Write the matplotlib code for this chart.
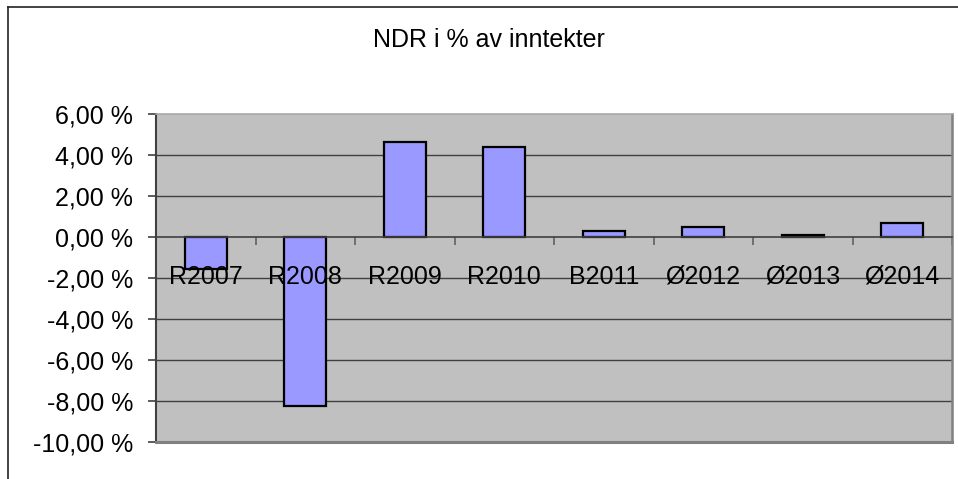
import numpy as np
import matplotlib.pyplot as plt
from matplotlib.lines import Line2D

categories = ["R2007", "R2008", "R2009", "R2010", "B2011", "Ø2012", "Ø2013", "Ø2014"]
values = [-1.58, -8.23, 4.65, 4.37, 0.28, 0.49, 0.11, 0.67]
y_ticks = [-10, -8, -6, -4, -2, 0, 2, 4, 6]
y_labels = ["-10,00 %", "-8,00 %", "-6,00 %", "-4,00 %", "-2,00 %",
            "0,00 %", "2,00 %", "4,00 %", "6,00 %"]
title = "NDR i % av inntekter"

plt.rcParams['font.family'] = ['Liberation Sans', 'DejaVu Sans']

W, H = 958, 479
fig = plt.figure(figsize=(W / 100, H / 100), dpi=100)
ax = fig.add_axes([156 / W, 1 - 442 / H, (952 - 156) / W, (442 - 114) / H])
ax.set_facecolor('#C0C0C0')

x = np.arange(len(categories))
ax.bar(x, values, width=0.42, color='#9999FF', edgecolor='black',
       linewidth=1.6, zorder=1)

# gridlines behind the bars
for t in y_ticks[1:-1]:
    if t != 0:
        ax.axhline(t, color='#404040', lw=1.0, zorder=0.5)

ax.set_xlim(-0.5, len(categories) - 0.5)
ax.set_ylim(y_ticks[0], y_ticks[-1])
ax.set_yticks(y_ticks)
ax.set_yticklabels(y_labels)
ax.tick_params(axis='y', length=6, width=1.2, color='#404040', pad=10.5,
               labelsize=18)

ax.set_xticks(x)
ax.set_xticks(np.arange(len(categories)) + 0.5, minor=True)
ax.set_xticklabels(categories)
ax.tick_params(axis='x', which='major', length=0, pad=20, labelsize=18)
ax.tick_params(axis='x', which='minor', length=6, width=1.2,
               color='#606060', direction='out')

ax.spines['bottom'].set_position(('data', 0))
ax.spines['bottom'].set_color('#404040')
ax.spines['bottom'].set_linewidth(1.2)
ax.spines['left'].set_color('#404040')
ax.spines['left'].set_linewidth(1.5)
ax.spines['top'].set_color('#A8A8A8')
ax.spines['top'].set_linewidth(1.2)
ax.spines['right'].set_color('#808080')
ax.spines['right'].set_linewidth(1.8)
ax.axhline(y_ticks[0], color='#808080', lw=2.2, zorder=3, clip_on=False)

fig.text(489 / W, 1 - 47 / H, title, fontsize=18, ha='center', va='baseline')

# chart frame (left and top edges, rest is cropped)
fig.add_artist(Line2D([7.5 / W, 7.5 / W], [0, 1 - 6.5 / H],
                      transform=fig.transFigure, color='#222222', lw=1.2))
fig.add_artist(Line2D([7.5 / W, 1], [1 - 6.5 / H, 1 - 6.5 / H],
                      transform=fig.transFigure, color='#222222', lw=1.2))

fig.savefig('out.png', dpi=100)
